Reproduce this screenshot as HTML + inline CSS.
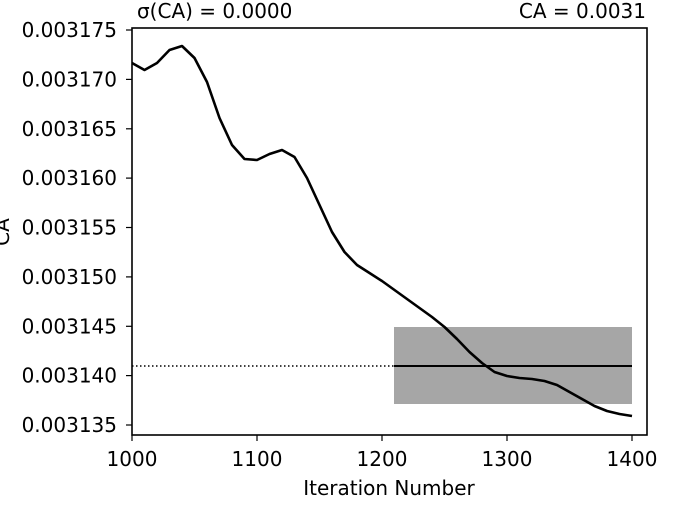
<!DOCTYPE html>
<html><head><meta charset="utf-8"><style>
body{margin:0;background:#fff;}
svg text{font-family:"DejaVu Sans","Liberation Sans",sans-serif;font-size:20px;fill:#000;}
</style></head><body>
<svg width="675" height="511" xmlns="http://www.w3.org/2000/svg">
<rect x="394" y="327" width="238" height="77" fill="#a6a6a6"/>
<line x1="132" y1="366" x2="394" y2="366" stroke="#000" stroke-width="1.5" stroke-dasharray="1.5,2.5"/>
<line x1="394" y1="366" x2="632" y2="366" stroke="#000" stroke-width="2"/>
<polyline fill="none" stroke="#000" stroke-width="2.6" stroke-linejoin="round" points="132,63 144.5,70 157,63 169.5,50 182,46 194.5,58 207,82 219.5,118 232,145 244.5,159 257,160 269.5,154 282,150 294.5,157 307,178 319.5,205 332,232 344.5,252 357,265 369.5,273 382,281 394.5,290 407,299 419.5,308 432,317 444.5,327 457,339 469.5,352 482,363 494.5,372 507,376 519.5,378 532,379 544.5,381 557,385 569.5,392 582,399 594.5,406 607,411 619.5,414 632,416"/>
<rect x="132" y="28" width="515" height="407" fill="none" stroke="#000" stroke-width="1.6"/>
<g stroke="#000" stroke-width="1.2">
<line x1="126" y1="30" x2="132" y2="30"/><line x1="126" y1="79.4" x2="132" y2="79.4"/><line x1="126" y1="128.8" x2="132" y2="128.8"/><line x1="126" y1="178.1" x2="132" y2="178.1"/><line x1="126" y1="227.5" x2="132" y2="227.5"/><line x1="126" y1="276.9" x2="132" y2="276.9"/><line x1="126" y1="326.3" x2="132" y2="326.3"/><line x1="126" y1="375.6" x2="132" y2="375.6"/><line x1="126" y1="425" x2="132" y2="425"/>
<line x1="132" y1="435" x2="132" y2="441"/><line x1="257" y1="435" x2="257" y2="441"/><line x1="382" y1="435" x2="382" y2="441"/><line x1="507" y1="435" x2="507" y2="441"/><line x1="632" y1="435" x2="632" y2="441"/>
</g>
<g text-anchor="end">
<text x="117" y="37">0.003175</text><text x="117" y="86.4">0.003170</text><text x="117" y="135.8">0.003165</text><text x="117" y="185.1">0.003160</text><text x="117" y="234.5">0.003155</text><text x="117" y="283.9">0.003150</text><text x="117" y="333.3">0.003145</text><text x="117" y="382.6">0.003140</text><text x="117" y="432">0.003135</text>
</g>
<g text-anchor="middle">
<text x="132" y="466">1000</text><text x="257" y="466">1100</text><text x="382" y="466">1200</text><text x="507" y="466">1300</text><text x="632" y="466">1400</text>
<text x="389" y="495">Iteration Number</text>
</g>
<text x="137" y="18">σ(CA) = 0.0000</text>
<text x="646" y="18" text-anchor="end">CA = 0.0031</text>
<text transform="translate(9,232) rotate(-90)" text-anchor="middle">CA</text>
</svg>
</body></html>
